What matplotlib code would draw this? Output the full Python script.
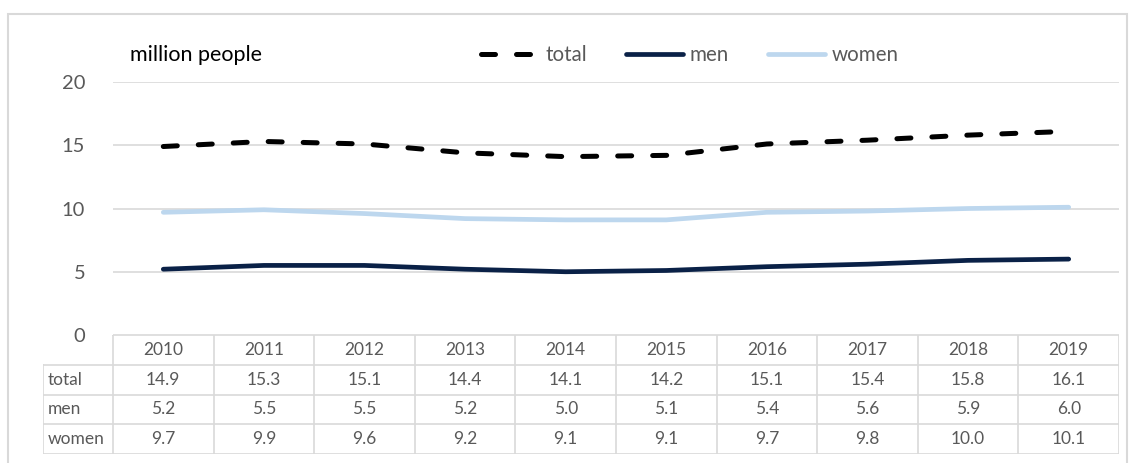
import matplotlib.pyplot as plt
from matplotlib.patches import Rectangle

plt.rcParams['font.family'] = ['Lato', 'DejaVu Sans']

# data
years = ["2010", "2011", "2012", "2013", "2014", "2015", "2016", "2017", "2018", "2019"]
total = [14.9, 15.3, 15.1, 14.4, 14.1, 14.2, 15.1, 15.4, 15.8, 16.1]
men = [5.2, 5.5, 5.5, 5.2, 5.0, 5.1, 5.4, 5.6, 5.9, 6.0]
women = [9.7, 9.9, 9.6, 9.2, 9.1, 9.1, 9.7, 9.8, 10.0, 10.1]
y_ticks = [0, 5, 10, 15, 20]

grid_col = '#d9d9d9'
text_col = '#595959'
W, H = 1129, 463

fig = plt.figure(figsize=(W / 100, H / 100), dpi=100)

# outer chart frame
fig.patches.append(Rectangle((8 / W, -0.1), (W - 10) / W, 1 - 14 / H + 0.1,
                             transform=fig.transFigure, fill=False,
                             edgecolor=grid_col, linewidth=1.5))

ax = fig.add_axes([113 / W, 1 - 335 / H, (1119 - 113) / W, (335 - 82) / H])
x = list(range(len(years)))
ax.plot(x, total, color='black', lw=3.6, dashes=(2.8, 4.2), label='total',
        dash_capstyle='round', dash_joinstyle='round')
ax.plot(x, men, color='#0a2147', lw=3.4, label='men',
        solid_capstyle='round', solid_joinstyle='round')
ax.plot(x, women, color='#bdd7ee', lw=3.4, label='women',
        solid_capstyle='round', solid_joinstyle='round')
ax.set_xlim(-0.5, len(years) - 0.5)
ax.set_ylim(0, 20)
ax.set_yticks(y_ticks)
ax.set_xticks([])
ax.tick_params(axis='y', length=0, pad=20, labelsize=14.5, labelcolor=text_col)
for s in ax.spines.values():
    s.set_visible(False)
ax.grid(axis='y', color=grid_col, lw=1.2)
ax.set_axisbelow(True)

fig.text(130 / W, 1 - 55 / H, 'million people', fontsize=15.5, color='black',
         va='center', ha='left')

fig.legend(loc='center', bbox_to_anchor=(690 / W, 1 - 55 / H), ncol=3, frameon=False,
           fontsize=14.8, labelcolor=text_col, handlelength=2.8, handletextpad=0.3,
           columnspacing=1.9)

# data table
label_w = 70 / 100.6
tax = fig.add_axes([43 / W, 1 - 454 / H, (1119 - 43) / W, (454 - 335) / H])
tax.set_xlim(-0.5 - label_w, len(years) - 0.5)
tax.set_ylim(4, 0)
tax.axis('off')
lw_t = 1.2
# horizontal lines
tax.plot([-0.5, len(years) - 0.5], [0, 0], color=grid_col, lw=lw_t)
for r in [1, 2, 3, 4]:
    tax.plot([-0.5 - label_w, len(years) - 0.5], [r, r], color=grid_col, lw=lw_t)
# vertical lines
tax.plot([-0.5 - label_w] * 2, [1, 4], color=grid_col, lw=lw_t)
for c in range(len(years) + 1):
    tax.plot([c - 0.5] * 2, [0, 4], color=grid_col, lw=lw_t)

rows = [('total', total), ('men', men), ('women', women)]
for i, yr in enumerate(years):
    tax.text(i, 0.5, yr, ha='center', va='center', fontsize=12.5, color=text_col)
for r, (name, vals) in enumerate(rows, start=1):
    tax.text(-0.5 - label_w + 0.05, r + 0.5, name, ha='left', va='center',
             fontsize=12.5, color=text_col)
    for i, v in enumerate(vals):
        tax.text(i, r + 0.5, f'{v:.1f}', ha='center', va='center',
                 fontsize=12.5, color=text_col)

fig.savefig('out.png', dpi=100)
